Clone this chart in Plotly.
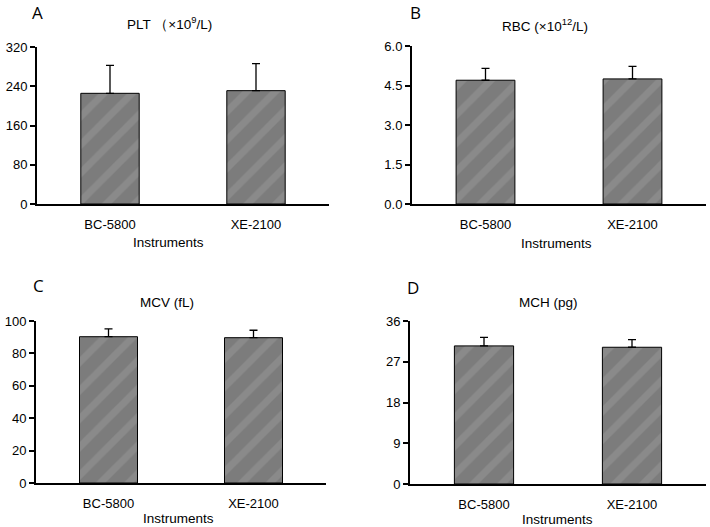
import plotly.graph_objects as go
from plotly.subplots import make_subplots

instruments = ["BC-5800", "XE-2100"]
plt_mean = [225.6, 231.0]
plt_sd = [57.0, 55.0]
rbc_mean = [4.70, 4.75]
rbc_sd = [0.45, 0.48]
mcv_mean = [90.3, 89.7]
mcv_sd = [4.8, 4.6]
mch_mean = [30.5, 30.2]
mch_sd = [1.9, 1.7]

panel_letters = ["A", "B", "C", "D"]
panel_titles = ["PLT （×10<sup>9</sup>/L)", "RBC (×10<sup>12</sup>/L)", "MCV (fL)", "MCH (pg)"]
y_ticks = [[0, 80, 160, 240, 320], [0, 1.5, 3.0, 4.5, 6.0], [0, 20, 40, 60, 80, 100], [0, 9, 18, 27, 36]]
y_ticktext = [["0", "80", "160", "240", "320"], ["0.0", "1.5", "3.0", "4.5", "6.0"],
              ["0", "20", "40", "60", "80", "100"], ["0", "9", "18", "27", "36"]]
x_title = "Instruments"

W, H = 710, 527
FONT = "Liberation Sans, Arial, sans-serif"

fig = make_subplots(rows=2, cols=2)
means = [plt_mean, rbc_mean, mcv_mean, mch_mean]
sds = [plt_sd, rbc_sd, mcv_sd, mch_sd]
pos = [(1, 1), (1, 2), (2, 1), (2, 2)]
for i in range(4):
    r, c = pos[i]
    fig.add_trace(go.Bar(
        x=instruments, y=means[i], width=0.4,
        marker=dict(color="#808080", line=dict(color="black", width=1),
                    pattern=dict(shape="/", bgcolor="#7c7c7c", fgcolor="#989898",
                                 size=20, solidity=0.35, fillmode="overlay")),
        error_y=dict(type="data", symmetric=False, array=sds[i], arrayminus=[0, 0],
                     color="black", thickness=1.3, width=4),
        showlegend=False), row=r, col=c)

# pixel layout: (x0, x1, y_zero, y_top)
boxes = [(37, 329, 204, 47), (412, 706, 204, 46), (36, 326, 483, 321), (410, 706, 484, 321)]
ymax = [320, 6.0, 100, 36]
letter_pos = [(37, 12), (415, 12), (38, 285), (413, 287)]
title_pos = [(169, 23), (545, 25), (167, 302), (548, 302)]
xtitle_pos = [(168, 242), (556, 243), (178, 518), (557, 519)]

for i in range(4):
    x0, x1, yz, yt = boxes[i]
    sfx = "" if i == 0 else str(i + 1)
    fig.layout["xaxis" + sfx].update(
        domain=[x0 / W, x1 / W], range=[-0.5, 1.5], showline=True, linecolor="black", linewidth=2,
        ticks="", showgrid=False, zeroline=False, automargin=False,
        tickfont=dict(size=13, color="black", family=FONT), ticklabelstandoff=7)
    fig.layout["yaxis" + sfx].update(
        domain=[1 - yz / H, 1 - yt / H], range=[0, ymax[i]], showline=True, linecolor="black", linewidth=2,
        ticks="outside", ticklen=5, tickwidth=2, tickcolor="black", showgrid=False, zeroline=False,
        automargin=False, tickvals=y_ticks[i], ticktext=y_ticktext[i],
        tickfont=dict(size=13, color="black", family=FONT))
    lx, ly = letter_pos[i]
    fig.add_annotation(text=panel_letters[i], x=lx / W, y=1 - ly / H, xref="paper", yref="paper",
                       xanchor="center", yanchor="middle", showarrow=False,
                       font=dict(size=17, color="black", family="Open Sans, sans-serif"))
    tx, ty = title_pos[i]
    fig.add_annotation(text=panel_titles[i], x=tx / W, y=1 - ty / H, xref="paper", yref="paper",
                       xanchor="center", yanchor="middle", showarrow=False,
                       font=dict(size=13.5, color="black", family=FONT))
    ax, ay = xtitle_pos[i]
    fig.add_annotation(text=x_title, x=ax / W, y=1 - ay / H, xref="paper", yref="paper",
                       xanchor="center", yanchor="middle", showarrow=False,
                       font=dict(size=13.5, color="black", family=FONT))

fig.update_layout(width=W, height=H, margin=dict(l=0, r=0, t=0, b=0, autoexpand=False),
                  paper_bgcolor="white", plot_bgcolor="white", bargap=0.2,
                  font=dict(family=FONT, color="black"))
fig.write_html("out.html", config={"displayModeBar": False},
               post_script="document.body.style.margin='0';document.body.style.overflow='hidden';")
